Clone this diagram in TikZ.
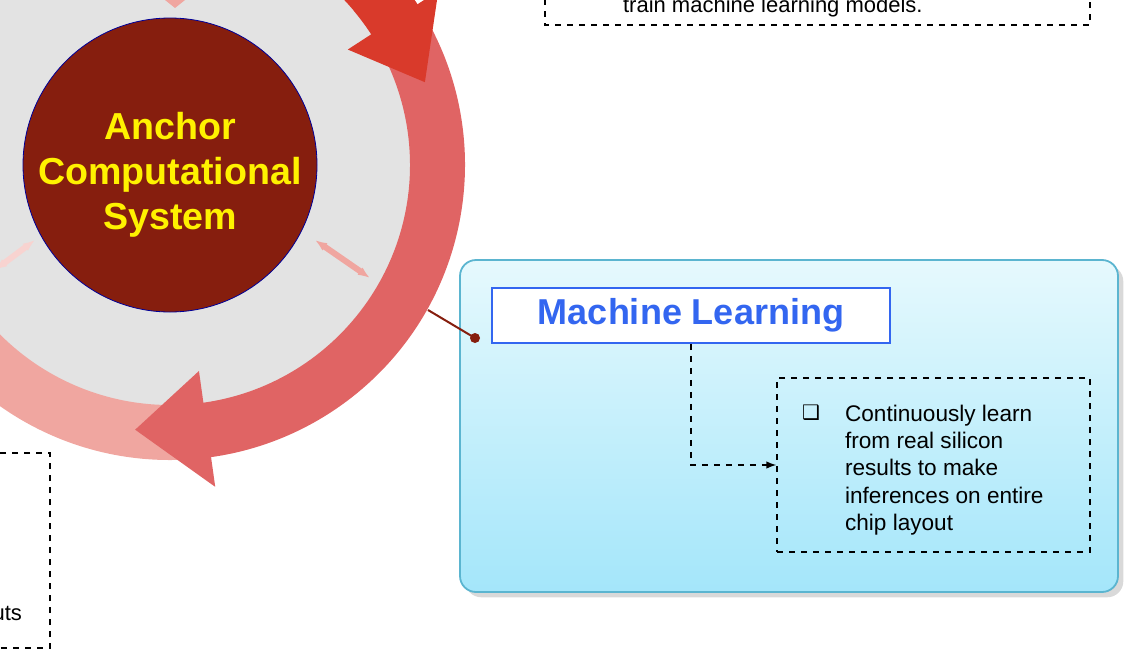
\documentclass[tikz,border=0pt]{standalone}
\usepackage{fontspec}
\setmainfont{Liberation Sans}
\newfontfamily\djv{DejaVu Sans}
\usetikzlibrary{arrows.meta,shadows,calc}
\definecolor{ringA}{HTML}{E06464}
\definecolor{ringB}{HTML}{F0A6A0}
\definecolor{ringC}{HTML}{D93A2B}
\definecolor{core}{HTML}{861E0E}
\definecolor{bluet}{HTML}{3366F0}
\definecolor{pTop}{HTML}{E6F9FD}
\definecolor{pBot}{HTML}{A4E6FA}
\definecolor{pBord}{HTML}{5BB5D0}
\begin{document}
\begin{tikzpicture}[x=0.5pt,y=0.5pt,
  dbox/.style={draw=black,dashed,line width=0.7pt},
  body/.style={font=\fontsize{11.3}{13.6}\selectfont,align=left,anchor=north west}]
\useasboundingbox (0,0) rectangle (1128,650);
\begin{scope}
\clip (0,0) rectangle (1128,650);
% gray disk
\fill[gray!22] (170,485) circle (242);
% ring segments
\fill[ringB] (170,485) ++(-88:295) arc(-88:-230:295) -- ++(-230:-55) arc(-230:-88:240) -- cycle;
\fill[ringA] (170,485) ++(40:295) arc(40:-88:295) -- ++(-88:-55) arc(-88:40:240) -- cycle;
\fill[ringC] (170,485) ++(80:295) arc(80:30:295) -- ++(30:-55) arc(30:80:240) -- cycle;
% arrow heads
\fill[ringA] (170,485) ++(-82:325) -- ($(170,485)+(-97.5:267)$) -- ($(170,485)+(-82:208)$) -- cycle;
\fill[ringC] (170,485) ++(33:320) -- ($(170,485)+(18:268)$) -- ($(170,485)+(33:212)$) -- cycle;
% small double arrows
\draw[ringB,line width=3pt,{Latex[length=6pt]}-{Latex[length=6pt]}] (315,410) -- (370,372);
\draw[ringB!50,line width=3pt,{Latex[length=6pt]}-{Latex[length=6pt]}] (-5,380) -- (35,410);
\fill[ringB] (165,650) -- (185,650) -- (175,642) -- cycle;
% core
\node[circle,draw=blue!60!black,fill=core,minimum size=147pt,inner sep=0pt] (core) at (170,485) {};
\node[text=yellow,font=\bfseries\fontsize{18.8}{22.5}\selectfont,align=center] (coretext) at (170,475)
  {Anchor\\Computational\\System};
% top right dashed box
\draw[dbox] (545,675) rectangle (1090,625);
\node[anchor=base west,font=\fontsize{11}{12}\selectfont] (toptext) at (616,638) {train machine learning models.};
% bottom left dashed box
\draw[dbox] (-20,197) rectangle (50,2);
\node[anchor=base east,font=\fontsize{11}{12}\selectfont] (bltext) at (29,30) {uts};
\end{scope}
% blue panel
\shade[top color=pTop,bottom color=pBot,draw=pBord,line width=0.9pt,rounded corners=8pt,drop shadow={opacity=0.3}]
  (460,390) rectangle (1118,58);
\coordinate (panel) at (475,312);
\draw[core,line width=1pt] (428,340) -- (panel);
\fill[core] (panel) circle (5);
\node[draw=bluet,fill=white,line width=0.8pt,minimum width=199pt,minimum height=27.5pt,
  text=bluet,font=\bfseries\fontsize{18}{22}\selectfont] (ml) at (691,334.5) {Machine Learning};
\node[dbox,minimum width=156.5pt,minimum height=87pt] (desc) at (933.5,185) {};
\node[body] (check) at (795,252) {\djv\bfseries\fontsize{10}{12}\selectfont ❑};
\node[body] (txt) at (838,252) {Continuously learn\\from real silicon\\results to make\\inferences on entire\\chip layout};
\draw[dashed,line width=0.7pt,-{Latex[length=5pt]}] (ml.south) |- (desc.west |- 0,185);
\end{tikzpicture}
\end{document}
